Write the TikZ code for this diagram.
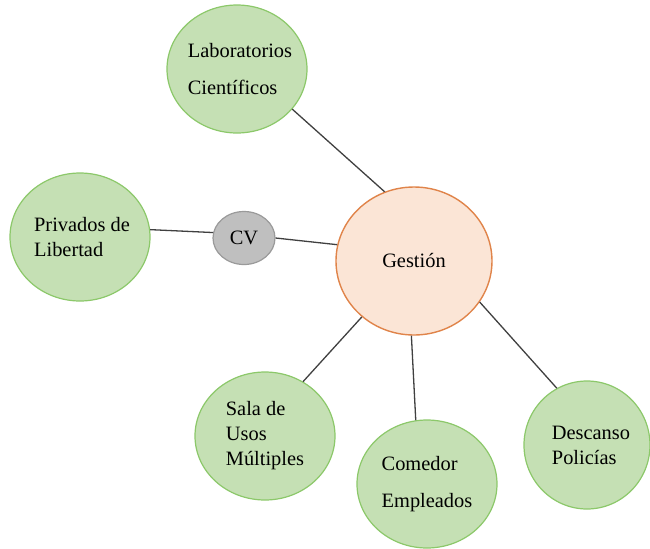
\documentclass[tikz,border=0pt]{standalone}
\usepackage{fontspec}
\setmainfont{Liberation Serif}
\usetikzlibrary{shapes.geometric}
\definecolor{greenfill}{HTML}{C5E0B4}
\definecolor{greenline}{HTML}{8CC86A}
\definecolor{orangefill}{HTML}{FBE5D6}
\definecolor{orangeline}{HTML}{E0844A}
\definecolor{grayfill}{HTML}{BFBFBF}
\definecolor{grayline}{HTML}{9A9A9A}
\definecolor{linkcol}{HTML}{404040}
\begin{document}
\begin{tikzpicture}[
  x=0.5pt, y=-0.5pt,
  every node/.style={font=\fontsize{10.2}{12.5}\selectfont},
  area/.style={ellipse, draw=greenline, fill=greenfill, line width=0.6pt, inner sep=-8pt, align=left, minimum width=70pt, minimum height=64pt},
  hub/.style={ellipse, draw=orangeline, fill=orangefill, line width=0.7pt, inner sep=0pt, minimum width=78pt, minimum height=74pt},
  small/.style={ellipse, draw=grayline, fill=grayfill, line width=0.6pt, inner sep=0pt, minimum width=31pt, minimum height=26.5pt},
  link/.style={draw=linkcol, line width=0.65pt}
]
\useasboundingbox (0,0) rectangle (650,548);
\node[hub] (gestion) at (414,261) {Gestión};
\node[area] (lab) at (237,69) {\hspace*{3pt}Laboratorios\\[6pt]\hspace*{3pt}Científicos};
\node[area] (privados) at (80,237) {\hspace*{2pt}Privados de\\\hspace*{2pt}Libertad};
\node[small] (cv) at (244,238) {CV};
\node[area] (sala) at (265,436) {Sala de\\Usos\\Múltiples};
\node[area] (comedor) at (427,484) {Comedor\\[6pt]Empleados};
\node[area, minimum width=63pt] (descanso) at (587,445) {\hspace*{4pt}Descanso\\\hspace*{4pt}Policías};
\draw[link] (lab.-36) -- (gestion.113);
\draw[link] (privados.6) -- (cv.170);
\draw[link] (cv.east) -- (gestion.168);
\draw[link] (gestion.-133) -- (sala.55);
\draw[link] (gestion.-92) -- (comedor.100);
\draw[link] (gestion.-32) -- (descanso.118);
\end{tikzpicture}
\end{document}
